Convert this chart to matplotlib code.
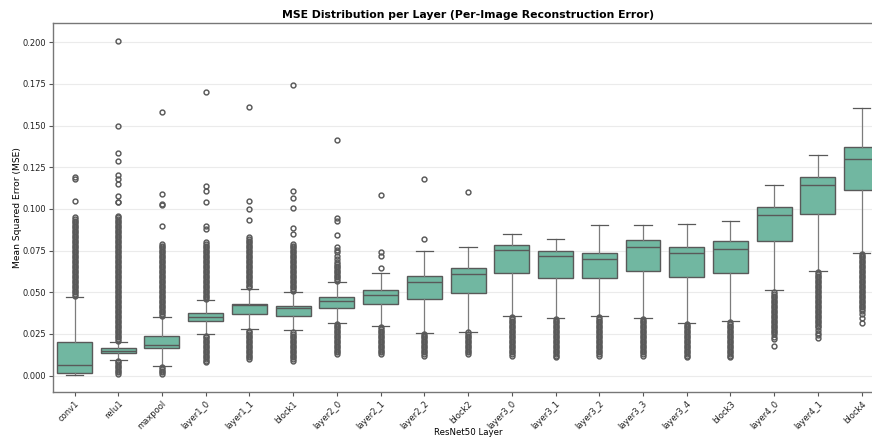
import matplotlib
matplotlib.use("Agg")
import matplotlib.pyplot as plt

layers = ["conv1", "relu1", "maxpool", "layer1_0", "layer1_1", "block1",
          "layer2_0", "layer2_1", "layer2_2", "block2", "layer3_0", "layer3_1",
          "layer3_2", "layer3_3", "layer3_4", "block3", "layer4_0", "layer4_1",
          "block4"]

# Box statistics of the per-image MSE for each layer
q1 = [0.0016, 0.0136, 0.0166, 0.0328, 0.0370, 0.0358, 0.0408, 0.0428, 0.0460, 0.0494,
      0.0614, 0.0586, 0.0586, 0.0626, 0.0590, 0.0616, 0.0808, 0.0968, 0.1116]
median = [0.0062, 0.0150, 0.0182, 0.0354, 0.0422, 0.0406, 0.0448, 0.0484, 0.0560, 0.0610,
          0.0752, 0.0720, 0.0698, 0.0774, 0.0736, 0.0760, 0.0962, 0.1144, 0.1302]
q3 = [0.0200, 0.0164, 0.0238, 0.0378, 0.0432, 0.0416, 0.0470, 0.0514, 0.0596, 0.0648,
      0.0786, 0.0750, 0.0738, 0.0814, 0.0774, 0.0810, 0.1010, 0.1194, 0.1372]
whisker_low = [0.0002, 0.0094, 0.0058, 0.0252, 0.0280, 0.0272, 0.0314, 0.0300, 0.0256, 0.0262,
               0.0360, 0.0344, 0.0360, 0.0344, 0.0314, 0.0326, 0.0512, 0.0628, 0.0738]
whisker_high = [0.0470, 0.0204, 0.0350, 0.0452, 0.0520, 0.0504, 0.0560, 0.0616, 0.0750, 0.0772,
                0.0852, 0.0820, 0.0906, 0.0906, 0.0910, 0.0928, 0.1144, 0.1324, 0.1608]

# Outlying images per layer
fliers_conv1 = [0.048, 0.049, 0.050, 0.051, 0.052, 0.053, 0.054, 0.055, 0.056, 0.057,
                0.058, 0.059, 0.060, 0.061, 0.062, 0.063, 0.064, 0.065, 0.066, 0.067,
                0.068, 0.069, 0.070, 0.071, 0.072, 0.073, 0.074, 0.075, 0.076, 0.077,
                0.078, 0.079, 0.080, 0.081, 0.082, 0.083, 0.084, 0.085, 0.086, 0.087,
                0.088, 0.089, 0.090, 0.091, 0.092, 0.093, 0.094, 0.095,
                0.105, 0.118, 0.119]
fliers_relu1 = [0.001, 0.002, 0.003, 0.004, 0.005, 0.006, 0.007, 0.008, 0.009,
                0.021, 0.022, 0.023, 0.024, 0.025, 0.026, 0.027, 0.028, 0.029, 0.030,
                0.031, 0.032, 0.033, 0.034, 0.035, 0.036, 0.037, 0.038, 0.039, 0.040,
                0.041, 0.042, 0.043, 0.044, 0.045, 0.046, 0.047, 0.048, 0.049, 0.050,
                0.051, 0.052, 0.053, 0.054, 0.055, 0.056, 0.057, 0.058, 0.059, 0.060,
                0.061, 0.062, 0.063, 0.064, 0.065, 0.066, 0.067, 0.068, 0.069, 0.070,
                0.071, 0.072, 0.073, 0.074, 0.075, 0.076, 0.077, 0.078, 0.079, 0.080,
                0.081, 0.082, 0.083, 0.084, 0.085, 0.086, 0.087, 0.088, 0.089, 0.090,
                0.091, 0.092, 0.093, 0.094, 0.095, 0.096,
                0.104, 0.1044, 0.108, 0.115, 0.1178, 0.1206, 0.129, 0.1338, 0.150, 0.201]
fliers_maxpool = [0.001, 0.002, 0.003, 0.004, 0.005,
                  0.036, 0.037, 0.038, 0.039, 0.040, 0.041, 0.042, 0.043, 0.044, 0.045,
                  0.046, 0.047, 0.048, 0.049, 0.050, 0.051, 0.052, 0.053, 0.054, 0.055,
                  0.056, 0.057, 0.058, 0.059, 0.060, 0.061, 0.062, 0.063, 0.064, 0.065,
                  0.066, 0.067, 0.068, 0.069, 0.070, 0.071, 0.072, 0.073, 0.074, 0.075,
                  0.076, 0.077, 0.078, 0.079,
                  0.090, 0.1024, 0.1032, 0.1088, 0.158]
fliers_layer1_0 = [0.008, 0.009, 0.010, 0.011, 0.012, 0.013, 0.014, 0.015, 0.016, 0.017,
                   0.018, 0.019, 0.020, 0.021, 0.022, 0.023, 0.024,
                   0.046, 0.047, 0.048, 0.049, 0.050, 0.051, 0.052, 0.053, 0.054, 0.055,
                   0.056, 0.057, 0.058, 0.059, 0.060, 0.061, 0.062, 0.063, 0.064, 0.065,
                   0.066, 0.067, 0.068, 0.069, 0.070, 0.071, 0.072, 0.073, 0.074, 0.075,
                   0.076, 0.077, 0.078, 0.079, 0.080,
                   0.0878, 0.0898, 0.1044, 0.1108, 0.1136, 0.170]
fliers_layer1_1 = [0.010, 0.011, 0.012, 0.013, 0.014, 0.015, 0.016, 0.017, 0.018, 0.019,
                   0.020, 0.021, 0.022, 0.023, 0.024, 0.025, 0.026, 0.027,
                   0.053, 0.054, 0.055, 0.056, 0.057, 0.058, 0.059, 0.060, 0.061, 0.062,
                   0.063, 0.064, 0.065, 0.066, 0.067, 0.068, 0.069, 0.070, 0.071, 0.072,
                   0.073, 0.074, 0.075, 0.076, 0.077, 0.078, 0.079, 0.080, 0.081, 0.082,
                   0.083,
                   0.0932, 0.100, 0.1048, 0.1614]
fliers_block1 = [0.009, 0.010, 0.011, 0.012, 0.013, 0.014, 0.015, 0.016, 0.017, 0.018,
                 0.019, 0.020, 0.021, 0.022, 0.023, 0.024, 0.025, 0.026,
                 0.051, 0.052, 0.053, 0.054, 0.055, 0.056, 0.057, 0.058, 0.059, 0.060,
                 0.061, 0.062, 0.063, 0.064, 0.065, 0.066, 0.067, 0.068, 0.069, 0.070,
                 0.071, 0.072, 0.073, 0.074, 0.075, 0.076, 0.077, 0.078, 0.079,
                 0.0852, 0.0888, 0.1004, 0.1066, 0.111, 0.1744]
fliers_layer2_0 = [0.013, 0.014, 0.015, 0.016, 0.017, 0.018, 0.019, 0.020, 0.021, 0.022,
                   0.023, 0.024, 0.025, 0.026, 0.027, 0.028, 0.029, 0.030, 0.031,
                   0.057, 0.058, 0.059, 0.060, 0.061, 0.062, 0.063, 0.064, 0.065, 0.066,
                   0.067, 0.068, 0.070, 0.072, 0.074, 0.0755, 0.077,
                   0.0842, 0.0928, 0.0948, 0.1416]
fliers_layer2_1 = [0.013, 0.014, 0.015, 0.016, 0.017, 0.018, 0.019, 0.020, 0.021, 0.022,
                   0.023, 0.024, 0.025, 0.026, 0.027, 0.028, 0.029,
                   0.0644, 0.0718, 0.074, 0.1086]
fliers_layer2_2 = [0.012, 0.013, 0.014, 0.015, 0.016, 0.017, 0.018, 0.019, 0.020, 0.021,
                   0.022, 0.023, 0.024, 0.025,
                   0.082, 0.118]
fliers_block2 = [0.013, 0.014, 0.015, 0.016, 0.017, 0.018, 0.019, 0.020, 0.021, 0.022,
                 0.023, 0.024, 0.025, 0.026,
                 0.110]
fliers_layer3_0 = [0.012, 0.013, 0.014, 0.015, 0.016, 0.017, 0.018, 0.019, 0.020, 0.021,
                   0.022, 0.023, 0.024, 0.025, 0.026, 0.027, 0.028, 0.029, 0.030, 0.031,
                   0.032, 0.033, 0.034, 0.035]
fliers_layer3_1 = [0.011, 0.012, 0.013, 0.014, 0.015, 0.016, 0.017, 0.018, 0.019, 0.020,
                   0.021, 0.022, 0.023, 0.024, 0.025, 0.026, 0.027, 0.028, 0.029, 0.030,
                   0.031, 0.032, 0.033, 0.034]
fliers_layer3_2 = [0.012, 0.013, 0.014, 0.015, 0.016, 0.017, 0.018, 0.019, 0.020, 0.021,
                   0.022, 0.023, 0.024, 0.025, 0.026, 0.027, 0.028, 0.029, 0.030, 0.031,
                   0.032, 0.033, 0.034, 0.035]
fliers_layer3_3 = [0.012, 0.013, 0.014, 0.015, 0.016, 0.017, 0.018, 0.019, 0.020, 0.021,
                   0.022, 0.023, 0.024, 0.025, 0.026, 0.027, 0.028, 0.029, 0.030, 0.031,
                   0.032, 0.033, 0.034]
fliers_layer3_4 = [0.011, 0.012, 0.013, 0.014, 0.015, 0.016, 0.017, 0.018, 0.019, 0.020,
                   0.021, 0.022, 0.023, 0.024, 0.025, 0.026, 0.027, 0.028, 0.029, 0.030,
                   0.031]
fliers_block3 = [0.011, 0.012, 0.013, 0.014, 0.015, 0.016, 0.017, 0.018, 0.019, 0.020,
                 0.021, 0.022, 0.023, 0.024, 0.025, 0.026, 0.027, 0.028, 0.029, 0.030,
                 0.031, 0.032]
fliers_layer4_0 = [0.018, 0.0218, 0.023, 0.0248, 0.026, 0.027, 0.028, 0.029, 0.030,
                   0.031, 0.032, 0.033, 0.034, 0.035, 0.036, 0.037, 0.038, 0.039, 0.040,
                   0.041, 0.042, 0.043, 0.044, 0.045, 0.046, 0.047, 0.048, 0.049, 0.050]
fliers_layer4_1 = [0.0224, 0.0242, 0.0258, 0.0274, 0.029, 0.030, 0.031, 0.032, 0.033,
                   0.034, 0.035, 0.036, 0.037, 0.038, 0.039, 0.040, 0.041, 0.042, 0.043,
                   0.044, 0.045, 0.046, 0.047, 0.048, 0.049, 0.050, 0.051, 0.052, 0.053,
                   0.054, 0.055, 0.056, 0.057, 0.058, 0.059, 0.060, 0.061, 0.062]
fliers_block4 = [0.0318, 0.0344, 0.037, 0.039, 0.040, 0.041, 0.042, 0.043, 0.044, 0.045,
                 0.046, 0.047, 0.048, 0.049, 0.050, 0.051, 0.052, 0.053, 0.054, 0.055,
                 0.056, 0.057, 0.058, 0.059, 0.060, 0.061, 0.062, 0.063, 0.064, 0.065,
                 0.066, 0.067, 0.068, 0.069, 0.070, 0.071, 0.072, 0.073]

fliers = [fliers_conv1, fliers_relu1, fliers_maxpool, fliers_layer1_0, fliers_layer1_1,
          fliers_block1, fliers_layer2_0, fliers_layer2_1, fliers_layer2_2, fliers_block2,
          fliers_layer3_0, fliers_layer3_1, fliers_layer3_2, fliers_layer3_3,
          fliers_layer3_4, fliers_block3, fliers_layer4_0, fliers_layer4_1, fliers_block4]

box_color = "#71b7a1"
line_color = "#595959"
whisker_color = "#7c7c7c"

stats = [dict(label=name, q1=a, med=m, q3=b, whislo=lo, whishi=hi, fliers=f)
         for name, a, m, b, lo, hi, f in zip(layers, q1, median, q3,
                                              whisker_low, whisker_high, fliers)]

fig = plt.figure(figsize=(8.72, 4.40), dpi=100)
ax = fig.add_axes([0.0604, 0.1084, 0.9528, 0.8386])

ax.yaxis.grid(True, color="#ebebeb", linewidth=0.8, zorder=0)
ax.set_axisbelow(True)

ax.bxp(stats, positions=range(len(layers)), widths=0.8, capwidths=0.4,
       patch_artist=True, manage_ticks=False,
       boxprops=dict(facecolor=box_color, edgecolor=line_color, linewidth=1.0),
       medianprops=dict(color=line_color, linewidth=1.0),
       whiskerprops=dict(color=whisker_color, linewidth=0.9),
       capprops=dict(color=line_color, linewidth=0.9),
       flierprops=dict(marker="o", markersize=3.5, markerfacecolor="none",
                       markeredgecolor=line_color, markeredgewidth=1.05,
                       linestyle="none"))

ax.set_xlim(-0.5, len(layers) - 0.5)
ax.set_ylim(-0.0100, 0.2114)
ax.set_yticks([0.000, 0.025, 0.050, 0.075, 0.100, 0.125, 0.150, 0.175, 0.200])
ax.set_yticklabels([f"{v:.3f}" for v in ax.get_yticks()])
ax.set_xticks(range(len(layers)))
ax.set_xticklabels(layers, rotation=45, ha="right", rotation_mode="anchor")

ax.tick_params(axis="both", labelsize=6, length=3, width=0.8, color="#555555",
               labelcolor="#222222")
ax.tick_params(axis="y", pad=1.5)
ax.tick_params(axis="x", pad=2)
for side in ["left", "bottom", "top", "right"]:
    ax.spines[side].set_color("#777777")
    ax.spines[side].set_linewidth(1.0)

ax.set_title("MSE Distribution per Layer (Per-Image Reconstruction Error)",
             fontsize=7.8, fontweight="bold", pad=4)
ax.set_xlabel("ResNet50 Layer", fontsize=6.2)
ax.set_ylabel("Mean Squared Error (MSE)", fontsize=6.6)
ax.xaxis.set_label_coords(0.5, -0.097)
ax.yaxis.set_label_coords(-0.037, 0.5)

fig.savefig("out.png", dpi=100)
